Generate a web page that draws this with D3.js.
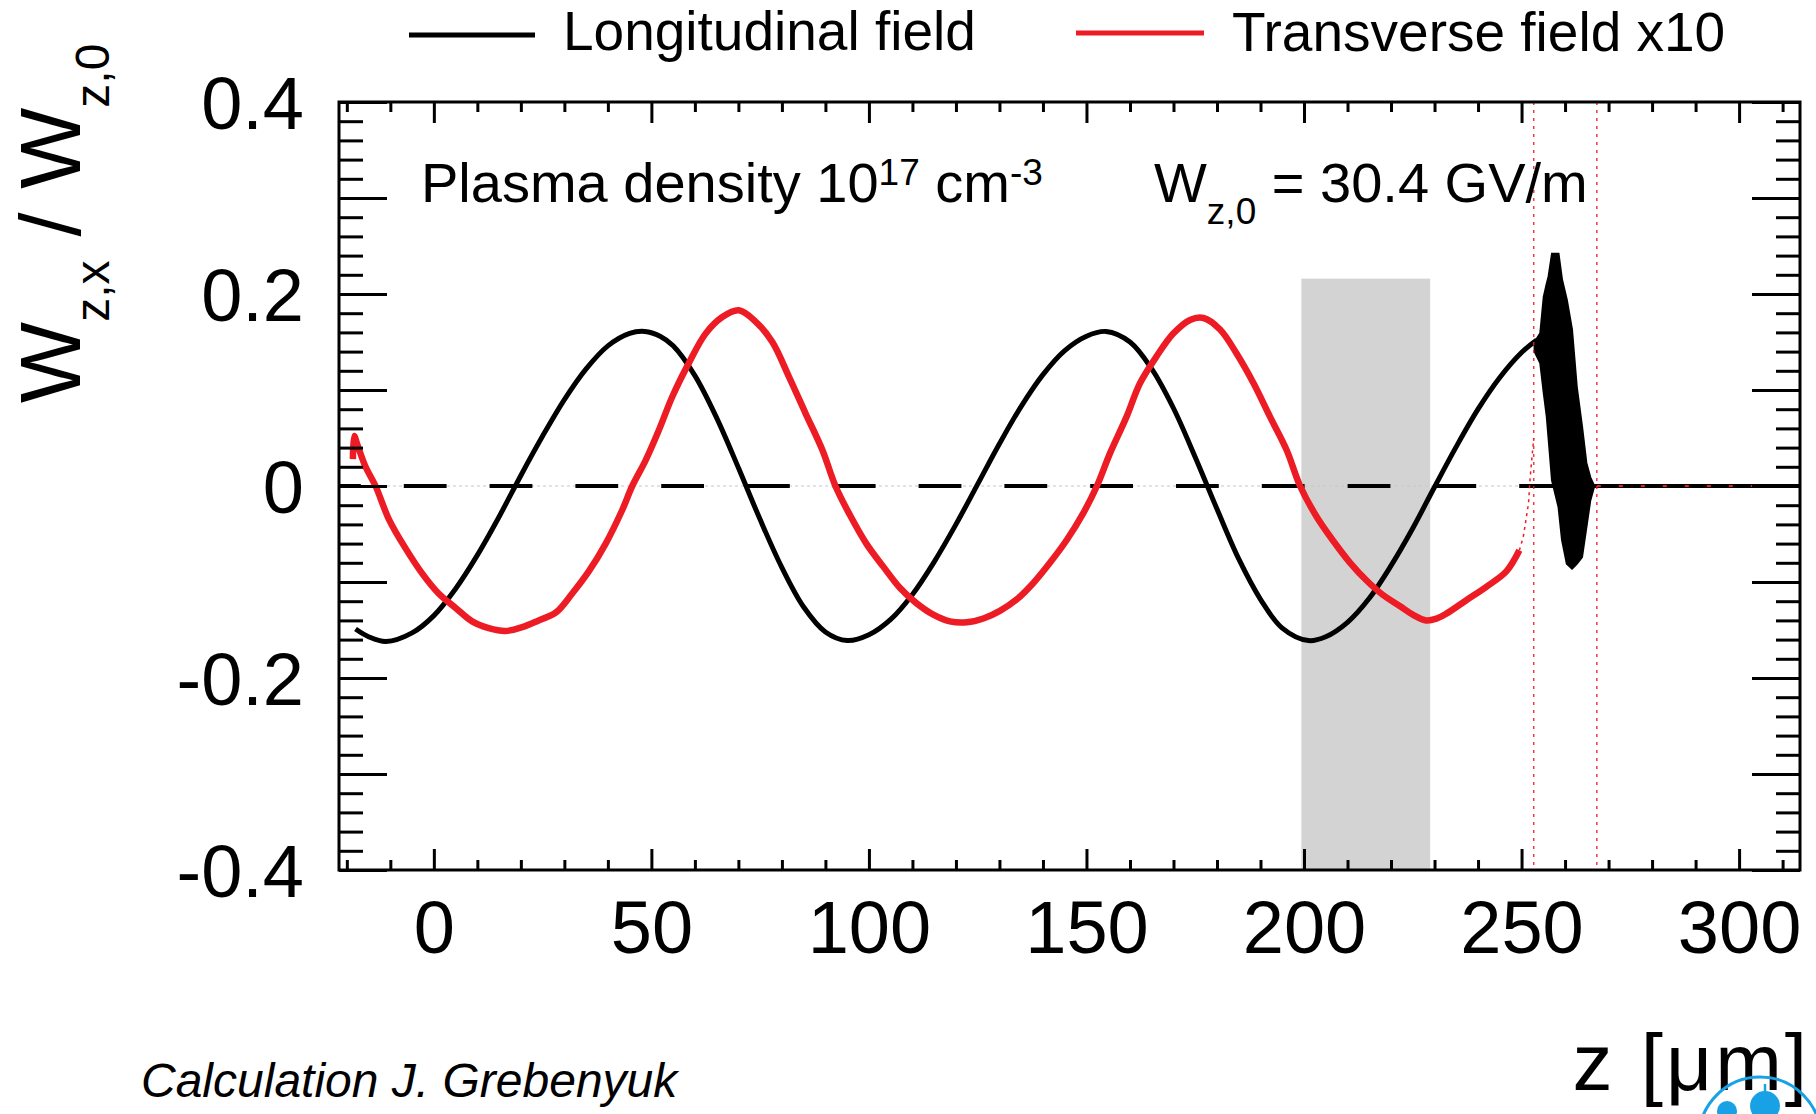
<!DOCTYPE html>
<html>
<head>
<meta charset="utf-8">
<script src="https://cdn.jsdelivr.net/npm/d3@7"></script>
<style>
  html, body { margin: 0; padding: 0; background: #fff; overflow: hidden; }
  svg { display: block; font-family: "Liberation Sans", Arial, Helvetica, sans-serif; }
</style>
</head>
<body>
<svg id="chart"></svg>
<script>
// longitudinal field W_z / W_z,0
const longZ = [-18, -15, -11, -5, 0, 5, 10, 15, 20, 25, 30, 35, 40, 45, 48.5,
  52, 55, 60, 65, 70, 75, 80, 85, 90, 95, 100, 105, 110, 115, 120, 125, 130,
  135, 140, 145, 150, 154.5, 160, 165, 170, 175, 180, 185, 190, 195, 201,
  205, 210, 215, 220, 225, 230, 235, 240, 245, 250, 253.5];
const longW = [-0.149, -0.157, -0.162, -0.153, -0.135, -0.107, -0.072, -0.032,
  0.011, 0.052, 0.090, 0.122, 0.146, 0.159, 0.161,
  0.156, 0.146, 0.115, 0.071, 0.019, -0.035, -0.085, -0.126, -0.152, -0.161,
  -0.155, -0.139, -0.113, -0.079, -0.040, 0.002, 0.044, 0.083, 0.116, 0.141,
  0.156, 0.161, 0.150, 0.122, 0.081, 0.030, -0.024, -0.076, -0.118, -0.148,
  -0.161, -0.157, -0.142, -0.117, -0.083, -0.044, -0.001, 0.041, 0.080, 0.113,
  0.139, 0.152];

// field inside the bunch: envelope of the fast oscillation
const bunchZ = [253.0, 254.3, 255.1, 255.8, 256.2, 257.0, 258.5, 259.3, 260.4,
  261.6, 262.7, 263.9, 264.9, 265.8, 266.6];
const bunchUpper = [0.150, 0.159, 0.197, 0.211, 0.218, 0.242, 0.242, 0.215,
  0.194, 0.163, 0.103, 0.062, 0.024, 0.009, 0.001];
const bunchLower = [0.140, 0.128, 0.097, 0.072, 0.050, 0.006, -0.022, -0.056,
  -0.081, -0.086, -0.081, -0.074, -0.043, -0.015, -0.002];

// behind the bunch the field is zero
const tailZ = [266.6, 314];
const tailW = [0, 0];

// transverse field x10
const transZ = [-18.6, -18.3, -17.5, -15.7, -13.4, -10.3, -6.5, -2.7, 1.1, 5.0,
  8.8, 12.6, 16.5, 20.3, 24.1, 28.0, 31.8, 35.6, 39.5, 43.3, 45.6, 48.7, 51.7,
  54.8, 58.6, 62.5, 66.3, 70.1, 74.0, 77.8, 81.6, 85.4, 89.3, 92.3, 95.6, 99.4,
  103.3, 107.1, 110.9, 114.8, 118.6, 122.5, 126.3, 130.1, 134.0, 137.8, 141.6,
  145.5, 149.3, 152.4, 155.4, 159.2, 162.3, 166.1, 170.0, 173.8, 176.9, 180.7,
  184.5, 188.4, 192.2, 196.0, 199.1, 202.9, 206.7, 210.6, 214.5, 218.0, 222.0,
  225.0, 228.1, 230.5, 232.7, 237.3, 241.9, 246.5, 249.5];
const transW = [0.028, 0.052, 0.042, 0.020, 0.000, -0.035, -0.065, -0.091,
  -0.112, -0.127, -0.141, -0.148, -0.151, -0.147, -0.140, -0.132, -0.112,
  -0.089, -0.060, -0.025, 0.000, 0.027, 0.058, 0.093, 0.128, 0.159, 0.176,
  0.183, 0.171, 0.150, 0.114, 0.076, 0.0375, 0.000, -0.030, -0.060, -0.084,
  -0.106, -0.122, -0.134, -0.141, -0.142, -0.138, -0.130, -0.118, -0.101,
  -0.080, -0.056, -0.028, 0.000, 0.034, 0.072, 0.107, 0.135, 0.159, 0.173,
  0.175, 0.163, 0.138, 0.107, 0.072, 0.0375, 0.000, -0.032, -0.057, -0.080,
  -0.099, -0.113, -0.125, -0.134, -0.140, -0.138, -0.133, -0.119, -0.105,
  -0.089, -0.067];

// transverse field inside the bunch goes off scale (dotted)
const transDotZ = [249.5, 250.4, 251.6, 252.0, 252.8];
const transDotW = [-0.067, -0.053, -0.018, 0.010, 0.05];
const bunchEdgesZ = [252.8, 267.3];
const transTailZ = [267.3, 314];

// grey band
const bandZ = [199.4, 229.0];
const bandTop = 0.216;

// tick labels
const xTickLabels = [0, 50, 100, 150, 200, 250, 300];
const yTickLabels = [-0.4, -0.2, 0, 0.2, 0.4];

const width = 1816, height = 1114;
const red = "#ed1c24";

const svg = d3.select("#chart").attr("width", width).attr("height", height);

const x = d3.scaleLinear().domain([-21.8, 314]).range([339, 1800]);
const y = d3.scaleLinear().domain([-0.4, 0.4]).range([870, 102]);

svg.append("defs").append("clipPath").attr("id", "frame")
  .append("rect")
  .attr("x", x.range()[0]).attr("y", y.range()[1])
  .attr("width", x.range()[1] - x.range()[0])
  .attr("height", y.range()[0] - y.range()[1]);

const plot = svg.append("g").attr("clip-path", "url(#frame)");

// grey band
plot.append("rect")
  .attr("x", x(bandZ[0]))
  .attr("y", y(bandTop))
  .attr("width", x(bandZ[1]) - x(bandZ[0]))
  .attr("height", y(-0.4) - y(bandTop) + 2)
  .attr("fill", "#d3d3d3");

// zero line: faint dotted under long dashes
plot.append("line")
  .attr("x1", x.range()[0]).attr("x2", x.range()[1])
  .attr("y1", y(0)).attr("y2", y(0))
  .attr("stroke", "#c8c8c8").attr("stroke-width", 1.2)
  .attr("stroke-dasharray", "3,3");
plot.append("line")
  .attr("x1", x.range()[0]).attr("x2", x.range()[1])
  .attr("y1", y(0)).attr("y2", y(0))
  .attr("stroke", "#000").attr("stroke-width", 4)
  .attr("stroke-dasharray", "42.8,43")
  .attr("stroke-dashoffset", 21);

const line = d3.line()
  .x((d) => x(d[0]))
  .y((d) => y(d[1]))
  .curve(d3.curveCatmullRom.alpha(0.5));

// longitudinal field
plot.append("path")
  .datum(longZ.map((z, i) => [z, longW[i]]))
  .attr("fill", "none")
  .attr("stroke", "#000")
  .attr("stroke-width", 5)
  .attr("d", line);

plot.append("path")
  .datum(bunchZ.map((z, i) => [z, bunchUpper[i], bunchLower[i]]))
  .attr("fill", "#000")
  .attr("stroke", "#000")
  .attr("stroke-width", 2)
  .attr("d", d3.area()
    .x((d) => x(d[0]))
    .y0((d) => y(d[2]))
    .y1((d) => y(d[1])));

plot.append("path")
  .datum(tailZ.map((z, i) => [z, tailW[i]]))
  .attr("fill", "none")
  .attr("stroke", "#000")
  .attr("stroke-width", 4)
  .attr("d", d3.line().x((d) => x(d[0])).y((d) => y(d[1])));

// transverse field
plot.append("path")
  .datum(transZ.map((z, i) => [z, transW[i]]))
  .attr("fill", "none")
  .attr("stroke", red)
  .attr("stroke-width", 6.5)
  .attr("stroke-linejoin", "round")
  .attr("d", line);

plot.append("path")
  .datum(transDotZ.map((z, i) => [z, transDotW[i]]))
  .attr("fill", "none")
  .attr("stroke", red)
  .attr("stroke-width", 1.5)
  .attr("stroke-dasharray", "3,4")
  .attr("d", d3.line().x((d) => x(d[0])).y((d) => y(d[1])));

plot.selectAll(".edge")
  .data(bunchEdgesZ)
  .enter()
  .append("line")
  .attr("x1", (d) => x(d)).attr("x2", (d) => x(d))
  .attr("y1", y(0.4)).attr("y2", y(-0.4))
  .attr("stroke", red)
  .attr("stroke-width", 1.5)
  .attr("stroke-dasharray", "3,5")
  .attr("opacity", 0.85);

plot.append("line")
  .attr("x1", x(transTailZ[0])).attr("x2", x(transTailZ[1]))
  .attr("y1", y(0)).attr("y2", y(0))
  .attr("stroke", red)
  .attr("stroke-width", 2)
  .attr("stroke-dasharray", "4,18");

// ticks on all four sides, pointing inward
const xMajor = d3.range(-50, 351, 50).filter((v) => v >= -21.8 && v <= 314);
const xMinor = d3.range(-20, 315, 10).filter((v) => v % 50 !== 0);
const yMajor = d3.range(-4, 5).map((v) => v / 10);
const yMinor = d3.range(-20, 21).filter((v) => v % 5 !== 0).map((v) => v / 50);

function tickGroup(axis, tx, ty) {
  const g = svg.append("g")
    .attr("transform", `translate(${tx},${ty})`)
    .call(axis);
  g.select(".domain").remove();
  g.selectAll(".tick line").attr("stroke", "#000").attr("stroke-width", 3);
  return g;
}

tickGroup(d3.axisBottom(x).tickValues(xMajor).tickSize(-21).tickFormat(""), 0, 870);
tickGroup(d3.axisBottom(x).tickValues(xMinor).tickSize(-10).tickFormat(""), 0, 870);
tickGroup(d3.axisTop(x).tickValues(xMajor).tickSize(-21).tickFormat(""), 0, 102);
tickGroup(d3.axisTop(x).tickValues(xMinor).tickSize(-10).tickFormat(""), 0, 102);
tickGroup(d3.axisLeft(y).tickValues(yMajor).tickSize(-48).tickFormat(""), 339, 0);
tickGroup(d3.axisLeft(y).tickValues(yMinor).tickSize(-24).tickFormat(""), 339, 0);
tickGroup(d3.axisRight(y).tickValues(yMajor).tickSize(-48).tickFormat(""), 1800, 0);
tickGroup(d3.axisRight(y).tickValues(yMinor).tickSize(-24).tickFormat(""), 1800, 0);

// tick labels
const xl = tickGroup(d3.axisBottom(x).tickValues(xTickLabels).tickSize(0)
  .tickPadding(30.5).tickFormat((d) => String(d)), 0, 870);
xl.selectAll("text").attr("font-size", 74).attr("font-family", null).attr("fill", "#000");

const yl = tickGroup(d3.axisLeft(y).tickValues(yTickLabels).tickSize(0)
  .tickPadding(35).tickFormat((d) => (d === 0 ? "0" : String(d))), 339, 0);
yl.selectAll("text").attr("font-size", 74).attr("font-family", null)
  .attr("fill", "#000").attr("dy", "0.36em");

// frame
svg.append("rect")
  .attr("x", x.range()[0]).attr("y", y.range()[1])
  .attr("width", x.range()[1] - x.range()[0])
  .attr("height", y.range()[0] - y.range()[1])
  .attr("fill", "none")
  .attr("stroke", "#000")
  .attr("stroke-width", 3);

// legend
svg.append("line")
  .attr("x1", 409).attr("x2", 535).attr("y1", 35).attr("y2", 35)
  .attr("stroke", "#000").attr("stroke-width", 5);
svg.append("text").attr("x", 563).attr("y", 50).attr("font-size", 55)
  .text("Longitudinal field");
svg.append("line")
  .attr("x1", 1076).attr("x2", 1204).attr("y1", 33).attr("y2", 33)
  .attr("stroke", red).attr("stroke-width", 5);
svg.append("text").attr("x", 1232).attr("y", 51).attr("font-size", 55)
  .text("Transverse field x10");

// annotations
const dens = svg.append("text").attr("x", 421).attr("y", 202).attr("font-size", 56);
dens.append("tspan").text("Plasma density 10");
dens.append("tspan").attr("font-size", 37).attr("dy", -17).text("17");
dens.append("tspan").attr("dy", 17).text(" cm");
dens.append("tspan").attr("font-size", 37).attr("dy", -17).text("-3");

const w0 = svg.append("text").attr("x", 1154).attr("y", 202).attr("font-size", 56);
w0.append("tspan").text("W");
w0.append("tspan").attr("font-size", 37).attr("dy", 22).text("z,0");
w0.append("tspan").attr("dy", -22).text(" = 30.4 GV/m");

// axis titles
const yt = svg.append("text")
  .attr("transform", "translate(80,403) rotate(-90)")
  .attr("font-size", 86);
yt.append("tspan").text("W");
yt.append("tspan").attr("font-size", 48).attr("dy", 29).text("z,x");
yt.append("tspan").attr("dy", -29).text(" / W");
yt.append("tspan").attr("font-size", 48).attr("dy", 29).text("z,0");

svg.append("text")
  .attr("x", 1810).attr("y", 1090)
  .attr("text-anchor", "end")
  .attr("font-size", 80)
  .attr("letter-spacing", 3)
  .text("z [\u03bcm]");

svg.append("text")
  .attr("x", 141).attr("y", 1097)
  .attr("font-size", 48)
  .attr("font-style", "italic")
  .text("Calculation J. Grebenyuk");

// corner logo (partly cut off)
const logo = svg.append("g").attr("fill", "#18a2e5").attr("stroke", "#18a2e5");
logo.append("circle").attr("cx", 1760).attr("cy", 1138).attr("r", 61)
  .attr("fill", "none").attr("stroke-width", 3);
logo.append("circle").attr("cx", 1765).attr("cy", 1106).attr("r", 15).attr("stroke", "none");
logo.append("circle").attr("cx", 1727).attr("cy", 1111).attr("r", 10).attr("stroke", "none");
logo.append("line").attr("x1", 1765).attr("x2", 1765).attr("y1", 1084).attr("y2", 1094)
  .attr("stroke-width", 2.5);
</script>
</body>
</html>
